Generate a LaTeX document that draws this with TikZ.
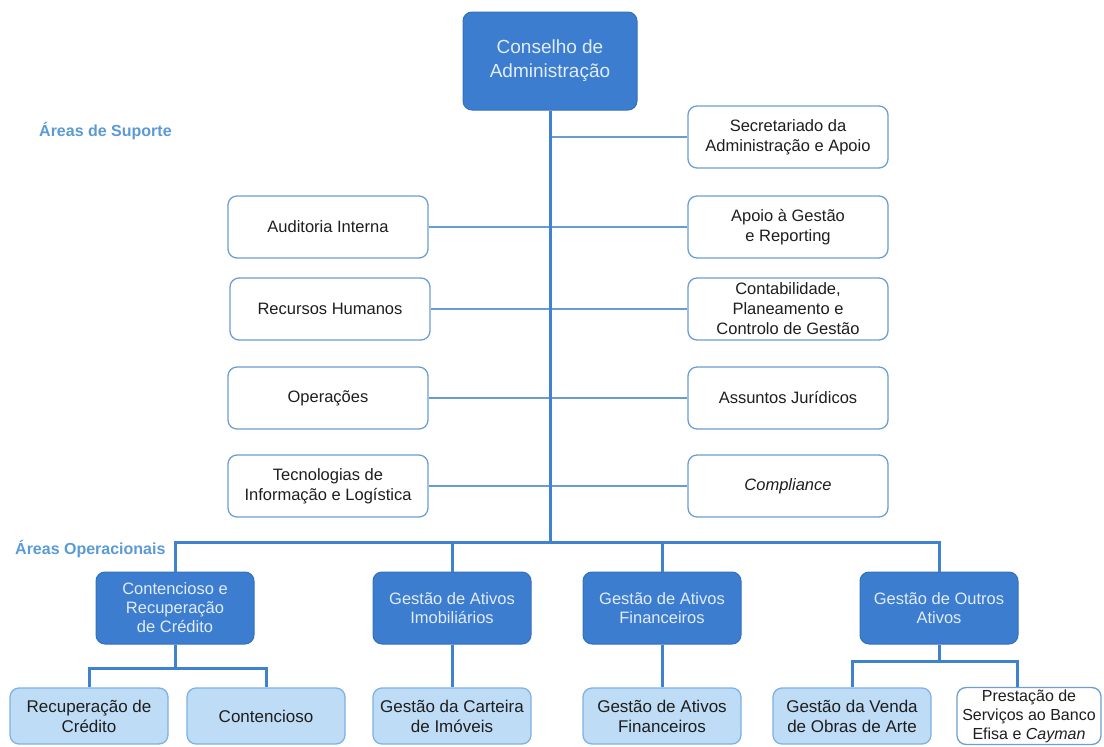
\documentclass[tikz,border=0pt]{standalone}
\usepackage{fontspec}
\setmainfont{Liberation Sans}
\definecolor{dblue}{HTML}{3C7DD0}
\definecolor{dborder}{HTML}{3470BE}
\definecolor{lblue}{HTML}{BEDCF5}
\definecolor{lborder}{HTML}{7DB2E2}
\definecolor{wborder}{HTML}{6B9ED3}
\definecolor{lineblue}{HTML}{3F82CE}
\definecolor{thinblue}{HTML}{6A9CCF}
\definecolor{labblue}{HTML}{5A9AD6}
\definecolor{txt}{HTML}{1E1E1E}
\definecolor{dtxt}{HTML}{E2ECF8}
\begin{document}
\begin{tikzpicture}[x=1pt,y=-1pt,
  darkbox/.style={rectangle, rounded corners=9pt, fill=dblue, draw=dborder, line width=1pt,
    text=dtxt, align=center, font=\fontsize{16.5}{19}\selectfont, minimum width=158pt, minimum height=72pt, inner sep=2pt},
  whitebox/.style={rectangle, rounded corners=9pt, fill=white, draw=wborder, line width=1.3pt,
    text=txt, align=center, font=\fontsize{16.5}{20}\selectfont, minimum width=200pt, minimum height=62pt, inner sep=2pt},
  lightbox/.style={rectangle, rounded corners=9pt, fill=lblue, draw=lborder, line width=1.3pt,
    text=txt, align=center, font=\fontsize{17}{20}\selectfont, minimum width=158pt, minimum height=56pt, inner sep=2pt},
  lab/.style={text=labblue, font=\bfseries\fontsize{16}{19}\selectfont, anchor=west, inner sep=0pt},
  trunk/.style={draw=lineblue, line width=3pt},
  thin/.style={draw=thinblue, line width=1.8pt},
  busline/.style={draw=lineblue, line width=3pt}
]
\useasboundingbox (0,0) rectangle (1104,747);

% top
\node[darkbox, minimum width=174pt, minimum height=98pt, font=\fontsize{19}{24}\selectfont] (ca) at (550,61) {Conselho de\\Administração};

% labels
\node[lab] (ls) at (39,131) {Áreas de Suporte};
\node[lab] (lo) at (15,549) {Áreas Operacionais};

% support areas, right
\node[whitebox] (sec) at (788,137) {Secretariado da\\Administração e Apoio};
\node[whitebox] (apo) at (788,227) {Apoio à Gestão\\e Reporting};
\node[whitebox] (cnt) at (788,309) {Contabilidade,\\Planeamento e\\Controlo de Gestão};
\node[whitebox] (ass) at (788,398) {Assuntos Jurídicos};
\node[whitebox] (cmp) at (788,486) {\itshape Compliance};

% support areas, left
\node[whitebox] (aud) at (328,227) {Auditoria Interna};
\node[whitebox] (rh) at (330,309) {Recursos Humanos};
\node[whitebox] (ops) at (328,398) {Operações};
\node[whitebox] (ti) at (328,486) {Tecnologias de\\Informação e Logística};

% operational areas
\node[darkbox] (crc) at (175,608) {Contencioso e\\Recuperação\\de Crédito};
\node[darkbox] (imo) at (452,608) {Gestão de Ativos\\Imobiliários};
\node[darkbox] (fin) at (662,608) {Gestão de Ativos\\Financeiros};
\node[darkbox] (out) at (939,608) {Gestão de Outros\\Ativos};

% third level
\node[lightbox] (rec) at (89,716) {Recuperação de\\Crédito};
\node[lightbox] (con) at (266,716) {Contencioso};
\node[lightbox] (car) at (452,716) {Gestão da Carteira\\de Imóveis};
\node[lightbox] (fin3) at (662,716) {Gestão de Ativos\\Financeiros};
\node[lightbox] (ven) at (852,716) {Gestão da Venda\\de Obras de Arte};
\node[whitebox, minimum width=144pt, minimum height=56pt, font=\fontsize{16}{19}\selectfont] (pre) at (1029,716) {Prestação de\\Serviços ao Banco\\Efisa e \textit{Cayman}};

% coordinates
\coordinate (busy) at (0,542);
\coordinate (j0) at (550,137);
\coordinate (s1) at (175,668);
\coordinate (s2) at (939,661);
\coordinate (pd) at ([xshift=-12pt]pre.north);

% support connectors
\draw[thin] (j0) -- (sec.west);
\draw[thin] (aud.east) -- (apo.west);
\draw[thin] (rh.east) -- (cnt.west);
\draw[thin] (ops.east) -- (ass.west);
\draw[thin] (ti.east) -- (cmp.west);

% trunk and bus
\draw[trunk] (ca.south) -- (ca.south |- busy);
\draw[busline] (crc.north) |- (out.north |- busy) -- (out.north);
\draw[busline] (imo.north) -- (imo.north |- busy);
\draw[busline] (fin.north) -- (fin.north |- busy);

% sub buses
\draw[busline] (crc.south) -- (s1);
\draw[busline] (rec.north) |- (s1) -| (con.north);
\draw[busline] (imo.south) -- (car.north);
\draw[busline] (fin.south) -- (fin3.north);
\draw[busline] (out.south) -- (s2);
\draw[busline] (ven.north) |- (s2) -| (pd);
\end{tikzpicture}
\end{document}
